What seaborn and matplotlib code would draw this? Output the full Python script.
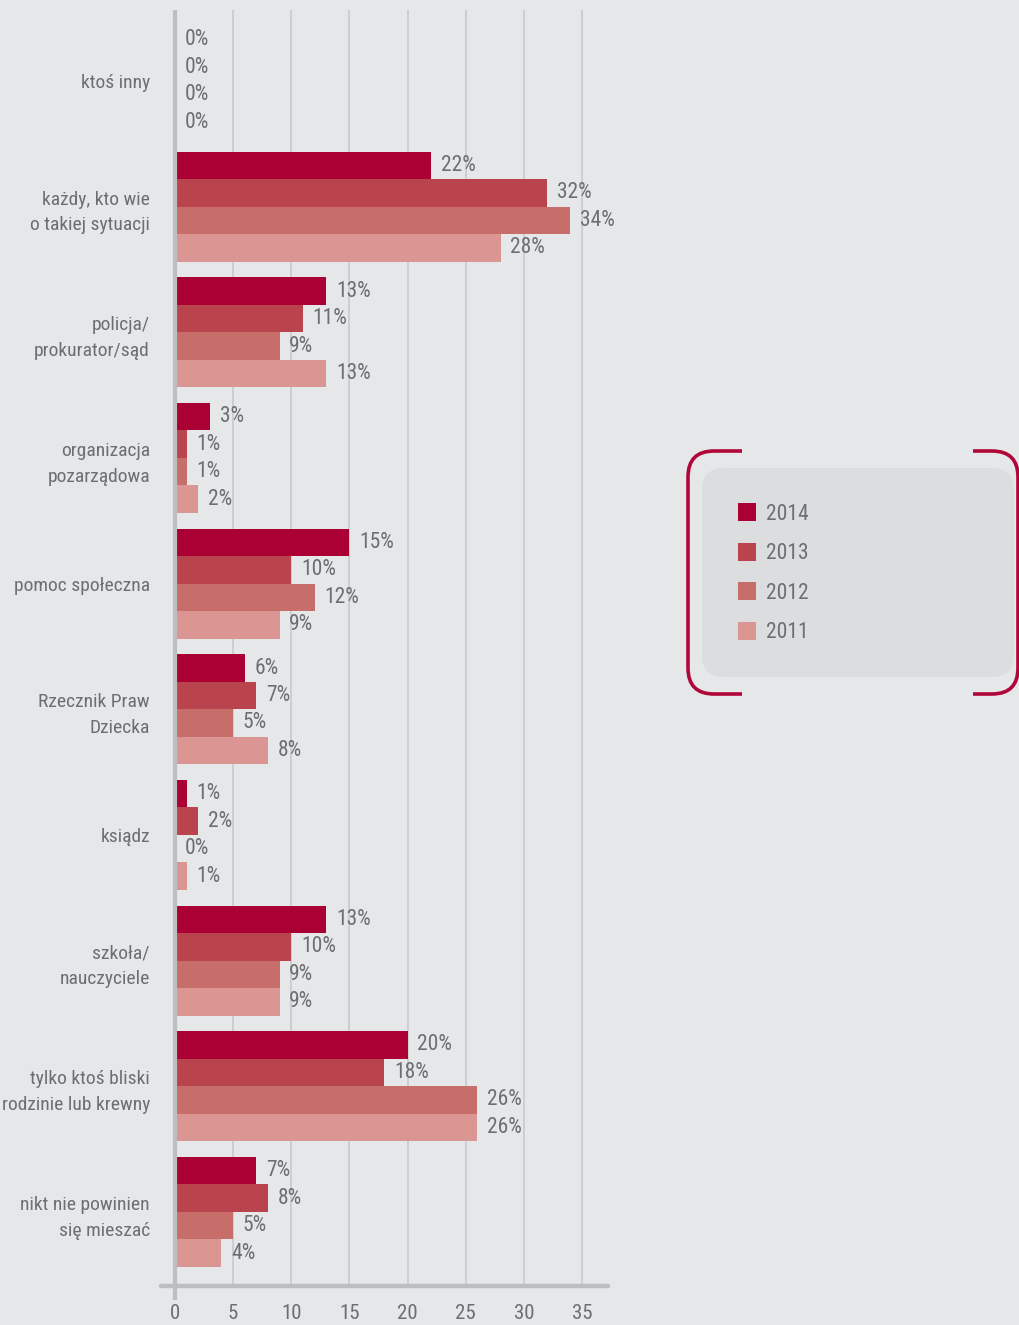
import matplotlib
matplotlib.use("Agg")
import matplotlib.pyplot as plt
from matplotlib import font_manager
from matplotlib.patches import FancyBboxPatch, PathPatch
from matplotlib.path import Path
from matplotlib.transforms import IdentityTransform
from matplotlib.lines import Line2D
import seaborn as sns
import pandas as pd

# ---- data -------------------------------------------------------------
categories = [
    "ktoś inny",
    "każdy, kto wie\no takiej sytuacji",
    "policja/\nprokurator/sąd",
    "organizacja\npozarządowa",
    "pomoc społeczna",
    "Rzecznik Praw\nDziecka",
    "ksiądz",
    "szkoła/\nnauczyciele",
    "tylko ktoś bliski\nrodzinie lub krewny",
    "nikt nie powinien\nsię mieszać",
]
years = ["2014", "2013", "2012", "2011"]
values_2014 = [0, 22, 13, 3, 15, 6, 1, 13, 20, 7]
values_2013 = [0, 32, 11, 1, 10, 7, 2, 10, 18, 8]
values_2012 = [0, 34, 9, 1, 12, 5, 0, 9, 26, 5]
values_2011 = [0, 28, 13, 2, 9, 8, 1, 9, 26, 4]
x_ticks = [0, 5, 10, 15, 20, 25, 30, 35]

series = {"2014": values_2014, "2013": values_2013,
          "2012": values_2012, "2011": values_2011}
colors = ["#AA0033", "#BA444E", "#C86E6A", "#DB9694"]

rows = []
for yr in years:
    for cat, v in zip(categories, series[yr]):
        rows.append({"kategoria": cat, "rok": yr, "wartosc": v})
df = pd.DataFrame(rows)

# ---- style ------------------------------------------------------------
BG = "#E6E7E9"
TXT = "#6D6E70"
GRID = "#C9CACC"
AXIS = "#BDBEC0"
ACCENT = "#B0063A"

sns.set_theme(style="white")
installed = {f.name for f in font_manager.fontManager.ttflist}
family = [f for f in ["Roboto Condensed", "Liberation Sans Narrow", "Liberation Sans"]
          if f in installed][:1] + ["DejaVu Sans"]
plt.rcParams["font.family"] = family

W, H = 1019, 1325
fig = plt.figure(figsize=(W / 100, H / 100), dpi=100, facecolor=BG)

# axes: x = -1.2 at px 161, px per unit ~11.63
ax = fig.add_axes([161 / W, 1 - 1286 / H, 447 / W, 1276 / H])
ax.set_facecolor(BG)

sns.barplot(data=df, y="kategoria", x="wartosc", hue="rok",
            hue_order=years, order=categories, palette=colors,
            orient="h", width=0.875, saturation=1, linewidth=0,
            ax=ax, legend=False)

ax.set_xlim(-1.2, 37.23)
ax.set_ylim(9.59, -0.565)
ax.set_xlabel("")
ax.set_ylabel("")

# grid lines
for t in x_ticks[1:]:
    ax.axvline(t, color=GRID, lw=1.2, zorder=0)

for s in ax.spines.values():
    s.set_visible(False)

# axis lines
ax.axhline(9.59, color=AXIS, lw=3.2, clip_on=False, zorder=3)
ax.plot([0, 0], [-0.565, 9.7], color=AXIS, lw=3.0, clip_on=False,
        zorder=3, solid_capstyle="butt")

ax.set_xticks(x_ticks)
ax.set_xticklabels([str(t) for t in x_ticks])
ax.tick_params(axis="x", length=0, pad=13, labelsize=15, labelcolor=TXT)
ax.tick_params(axis="y", length=0, pad=8, labelsize=14, labelcolor=TXT)
for lab in ax.get_yticklabels():
    lab.set_horizontalalignment("right")
    lab.set_multialignment("right")
    lab.set_linespacing(1.55)

# value labels
for cont, yr in zip(ax.containers, years):
    ax.bar_label(cont, labels=[f"{v}%" for v in series[yr]],
                 padding=7, fontsize=15.5, color=TXT)

# ---- legend -----------------------------------------------------------
handles = [Line2D([], [], marker="s", linestyle="", markersize=13,
                  markerfacecolor=c, markeredgewidth=0) for c in colors]
fig.legend(handles, years, loc="upper left",
           bbox_to_anchor=(723 / W, 1 - 493 / H), frameon=False,
           fontsize=15.5, labelcolor=TXT, handletextpad=0.3,
           labelspacing=0.86, borderpad=0, handlelength=1.2)

ident = IdentityTransform()
box = FancyBboxPatch((702, H - 677), 312, 209,
                     boxstyle="round,pad=0,rounding_size=22",
                     transform=ident, facecolor="#DCDDDF",
                     edgecolor="none", zorder=0)
fig.patches.append(box)


def bracket(points):
    verts, codes = [], []
    for kind, pts in points:
        if kind == "M":
            verts.append(pts); codes.append(Path.MOVETO)
        elif kind == "L":
            verts.append(pts); codes.append(Path.LINETO)
        else:
            verts.extend(pts); codes.extend([Path.CURVE3, Path.CURVE3])
    p = PathPatch(Path(verts, codes), transform=ident, facecolor="none",
                  edgecolor=ACCENT, lw=2.6, capstyle="butt")
    fig.patches.append(p)


r = 26
ytop, ybot = H - 451, H - 694
bracket([("M", (742, ytop)), ("L", (688 + r, ytop)),
         ("Q", [(688, ytop), (688, ytop - r)]),
         ("L", (688, ybot + r)),
         ("Q", [(688, ybot), (688 + r, ybot)]),
         ("L", (742, ybot))])
xr = 1018
bracket([("M", (973, ytop)), ("L", (xr - r, ytop)),
         ("Q", [(xr, ytop), (xr, ytop - r)]),
         ("L", (xr, ybot + r)),
         ("Q", [(xr, ybot), (xr - r, ybot)]),
         ("L", (973, ybot))])

fig.savefig("out.png", dpi=100, facecolor=BG)
